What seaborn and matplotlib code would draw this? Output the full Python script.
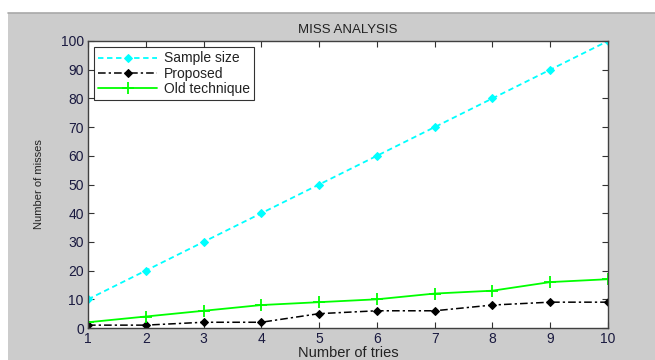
import matplotlib
matplotlib.use("Agg")
import matplotlib.pyplot as plt
import seaborn as sns
import pandas as pd
from matplotlib.patches import Rectangle
from matplotlib.lines import Line2D

tries = [1, 2, 3, 4, 5, 6, 7, 8, 9, 10]
sample_size = [10, 20, 30, 40, 50, 60, 70, 80, 90, 100]
proposed = [1, 1, 2, 2, 5, 6, 6, 8, 9, 9]
old_technique = [2, 4, 6, 8, 9, 10, 12, 13, 16, 17]
y_ticks = [0, 10, 20, 30, 40, 50, 60, 70, 80, 90, 100]

sns.set_theme(style="white")
plt.rcParams['font.family'] = ['Liberation Sans', 'DejaVu Sans']

fig = plt.figure(figsize=(6.55, 3.6), dpi=100, facecolor="white")
fig.patches.append(Rectangle((8/655, 0), 1 - 8/655, (360-13)/360,
                             transform=fig.transFigure, facecolor="#cccccc",
                             edgecolor="none", zorder=-10))
fig.lines.append(Line2D([8/655, 1], [(360-12.5)/360]*2, transform=fig.transFigure,
                        color="#a8a8a8", lw=1.2, zorder=-9))

ax = fig.add_axes([88/655, 32/360, 520/655, 287/360])
ax.set_zorder(5)
ax.set_facecolor("white")

df = pd.DataFrame({"tries": tries, "sample": sample_size,
                   "proposed": proposed, "old": old_technique})

sns.lineplot(data=df, x="tries", y="sample", ax=ax, color="#00ffff",
             linestyle=(0, (3, 2)), marker="D", markersize=4, lw=1.3,
             markeredgecolor="#00ffff", label="Sample size")
sns.lineplot(data=df, x="tries", y="proposed", ax=ax, color="black",
             linestyle=(0, (5, 2, 1.5, 2)), marker="D", markersize=4, lw=1.1,
             markeredgecolor="black", label="Proposed")
sns.lineplot(data=df, x="tries", y="old", ax=ax, color="#00ff00",
             linestyle="-", marker="+", markersize=8, markeredgewidth=1.3, lw=1.3,
             markeredgecolor="#00ff00", label="Old technique")

ax.set_xlim(1, 10)
ax.set_ylim(0, 100)
ax.set_xticks(tries)
ax.set_yticks(y_ticks)
ax.tick_params(direction="in", length=4, width=0.8, top=True, right=True,
               labelsize=10, colors="#333333", labelcolor="#1a1a40",
               left=True, bottom=True, pad=3)
for s in ax.spines.values():
    s.set_color("#404040")
    s.set_linewidth(1.0)

ax.set_title("MISS ANALYSIS", fontsize=9.5, color="#222222", pad=6)
ax.set_xlabel("Number of tries", fontsize=10.5, color="#222222", labelpad=0)
ax.set_ylabel("Number of misses", fontsize=8, color="#222222", labelpad=12)

leg = ax.legend(loc="upper left", fontsize=10, frameon=True, fancybox=False,
                edgecolor="black", handlelength=4.2, borderpad=0.3,
                labelspacing=0.1, handletextpad=0.5, borderaxespad=0.45,
                numpoints=1)
leg.get_frame().set_linewidth(0.8)
for t in leg.get_texts():
    t.set_color("#222222")

fig.savefig("out.png", dpi=100, facecolor="white")
